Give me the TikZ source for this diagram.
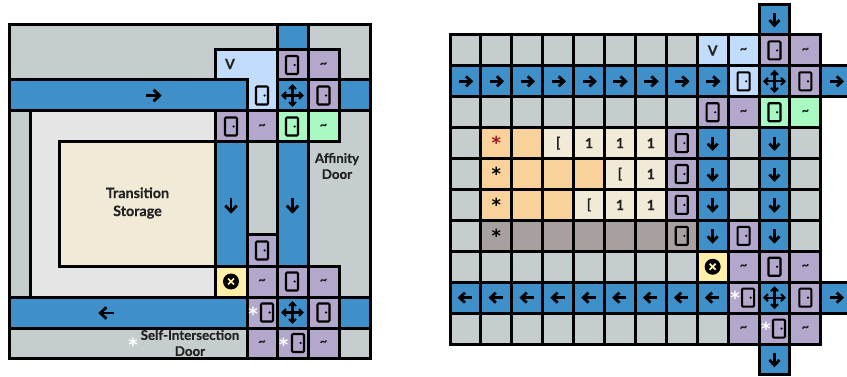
\documentclass[tikz,border=0pt]{standalone}
\usepackage{fontspec}
\setmainfont{Lato}[BoldFeatures={FakeBold=0.3}]
\newfontfamily\starfont{DejaVu Sans Bold}
\definecolor{cgray}{HTML}{C5CDCF}
\definecolor{cblue}{HTML}{3F8FC8}
\definecolor{cpurp}{HTML}{B3A8CB}
\definecolor{clite}{HTML}{C2DCFB}
\definecolor{cgreen}{HTML}{A8F9C2}
\definecolor{cyell}{HTML}{FFEFA8}
\definecolor{ccream}{HTML}{F1EAD6}
\definecolor{corange}{HTML}{F8D29A}
\definecolor{ctaupe}{HTML}{A8A09E}
\definecolor{cpale}{HTML}{E5E5E5}
\definecolor{cred}{HTML}{A01818}
\definecolor{cink}{HTML}{222222}
\tikzset{
  reg/.style={draw=black,line width=3pt,fill=#1},
  lab/.style={font=\bfseries\fontsize{13.3}{16}\selectfont,text=cink,align=center,inner sep=0pt},
  pics/door/.style={code={
    \draw[black,line width=2.1pt,rounded corners=1pt] (-6,-9) rectangle (6,9);
    \fill[black] (2.6,0) circle (1.2);}},
  pics/arw/.style={code={
    \draw[black,line width=2.8pt] (-6.5,0) -- (5.5,0);
    \draw[black,line width=2.8pt] (0.5,-5) -- (5.8,0) -- (0.5,5);}},
  pics/mv/.style={code={
    \draw[black,line width=2.1pt] (-9,0) -- (9,0) (0,-9) -- (0,9);
    \draw[black,line width=2.1pt] (-6.5,-3.5) -- (-10,0) -- (-6.5,3.5);
    \draw[black,line width=2.1pt] (6.5,-3.5) -- (10,0) -- (6.5,3.5);
    \draw[black,line width=2.1pt] (-3.5,-6.5) -- (0,-10) -- (3.5,-6.5);
    \draw[black,line width=2.1pt] (-3.5,6.5) -- (0,10) -- (3.5,6.5);}},
  pics/xc/.style={code={
    \fill[black] (0,0) circle (8);
    \draw[cyell,line width=1.7pt] (-3,-3) -- (3,3) (-3,3) -- (3,-3);}}
}
% right-hand grid: column, row, colour
\newcommand{\gc}[3]{\draw[reg=#3] ({450+30.9*#1},{35+30.9*#2}) rectangle ++(30.9,30.9);}
\newcommand{\gp}[4]{\gc{#1}{#2}{#3}\pic[#4] at ({465.45+30.9*#1},{50.45+30.9*#2}) }
\newcommand{\gt}[5]{\gc{#1}{#2}{#3}\node[inner sep=0pt,text=#5] (t#1r#2) at ({465.45+30.9*#1},{50.45+30.9*#2}) {#4};}
\newcommand{\tl}{\fontsize{13}{13}\selectfont\bfseries\char`~}
\newcommand{\og}{\fontsize{14}{14}\selectfont\bfseries}
\newcommand{\obr}{\fontsize{14}{14}\selectfont\bfseries}
\newcommand{\astk}{\fontsize{18}{18}\selectfont\starfont\raisebox{-1pt}{*}}
\begin{document}
\begin{tikzpicture}[x=1pt,y=-1pt]
\useasboundingbox (0,0) rectangle (847,377);
\clip (0,0) rectangle (847,377);
\fill[white] (0,0) rectangle (847,377);
% ---------- left diagram
\draw[reg=cgray] (9,25) rectangle (370,358);
\draw[reg=cpale] (30,111) rectangle (215,297);
\draw[reg=ccream] (59,142) rectangle (215,266);
\draw[reg=cblue] (277,25) rectangle (308,50);
\draw[reg=clite] (215,50) -- (277,50) -- (277,111) -- (247,111) -- (247,80) -- (215,80) -- cycle;
\draw[reg=cblue] (9,80) rectangle (247,111);
\draw[reg=cblue] (339,80) rectangle (370,111);
\draw[reg=cpurp] (277,50) rectangle (308,80);
\draw[reg=cpurp] (308,50) rectangle (339,80);
\draw[reg=cblue] (277,80) rectangle (308,111);
\draw[reg=cpurp] (308,80) rectangle (339,111);
\draw[reg=cpurp] (215,111) rectangle (247,142);
\draw[reg=cpurp] (247,111) rectangle (277,142);
\draw[reg=cgreen] (277,111) rectangle (308,142);
\draw[reg=cgreen] (308,111) rectangle (339,142);
\draw[reg=cblue] (215,142) rectangle (247,266);
\draw[reg=cblue] (277,142) rectangle (308,266);
\draw[reg=cpurp] (247,235) rectangle (277,266);
\draw[reg=cyell] (215,266) rectangle (247,297);
\draw[reg=cpurp] (247,266) rectangle (277,297);
\draw[reg=cpurp] (277,266) rectangle (308,297);
\draw[reg=cpurp] (308,266) rectangle (339,297);
\draw[reg=cblue] (9,297) rectangle (247,328);
\draw[reg=cpurp] (247,297) rectangle (277,328);
\draw[reg=cblue] (277,297) rectangle (308,328);
\draw[reg=cpurp] (308,297) rectangle (339,328);
\draw[reg=cblue] (339,297) rectangle (370,328);
\draw[reg=cpurp] (247,328) rectangle (277,358);
\draw[reg=cpurp] (277,328) rectangle (308,358);
\draw[reg=cpurp] (308,328) rectangle (339,358);
% left icons
\pic at (292,65) {door};
\pic at (323.5,95.5) {door};
\pic at (262,95.5) {door};
\pic at (231,126.5) {door};
\pic at (292,126.5) {door};
\pic at (262,250.5) {door};
\pic at (292,281.5) {door};
\pic at (323.5,312.5) {door};
\pic at (267,312.5) {door};
\pic at (298,343) {door};
\pic at (292.5,95.5) {mv};
\pic at (292.5,312.5) {mv};
\pic[scale=1.15] at (153,95.5) {arw};
\pic[scale=1.15,rotate=180] at (107,313) {arw};
\pic[scale=1.15,rotate=-90] at (231,205) {arw};
\pic[scale=1.15,rotate=-90] at (292.5,205) {arw};
\pic at (231,281.5) {xc};
\node[inner sep=0pt,text=cink] (lv) at (230,64) {\og V};
\node[inner sep=0pt,text=cink] (l1) at (323.5,65) {\tl};
\node[inner sep=0pt,text=cink] (l2) at (262,126.5) {\tl};
\node[inner sep=0pt,text=cink] (l3) at (323.5,126.5) {\tl};
\node[inner sep=0pt,text=cink] (l4) at (262,281.5) {\tl};
\node[inner sep=0pt,text=cink] (l5) at (323.5,281.5) {\tl};
\node[inner sep=0pt,text=cink] (l6) at (262,343) {\tl};
\node[inner sep=0pt,text=cink] (l7) at (323.5,343) {\tl};
\node[lab,font=\bfseries\fontsize{14.3}{18}\selectfont] (storage) at (137.5,203) {Transition\\Storage};
\node[lab] (aff) at (337,166) {Affinity\\Door};
\node[lab] (self) at (190,343) {Self-Intersection\\Door};
\node[inner sep=0pt,text=white] (s1) at (133,344.5) {\astk};
\node[inner sep=0pt,text=white] (s2) at (253,313.5) {\astk};
\node[inner sep=0pt,text=white] (s3) at (283.5,344.5) {\astk};
% ---------- right diagram
\foreach \r/\n in {0/7,2/7,7/7,9/8}{\foreach \c in {0,...,\n}{\gc{\c}{\r}{cgray}}}
\foreach \r in {3,4,5,6}{\gc{0}{\r}{cgray}}
\foreach \c in {2,3,4}{\gc{\c}{4}{corange}}
\gc{2}{3}{corange}
\foreach \c in {2,3}{\gc{\c}{5}{corange}}
\foreach \c in {2,...,6}{\gc{\c}{6}{ctaupe}}
\foreach \r in {3,4,5,6}{\gc{9}{\r}{cgray}\gc{11}{\r}{cgray}}
\gt{8}{0}{clite}{\og V}{cink}
\gt{9}{0}{clite}{\tl}{cink}
\gt{11}{0}{cpurp}{\tl}{cink}
\gt{9}{2}{cpurp}{\tl}{cink}
\gt{11}{2}{cgreen}{\tl}{cink}
\gt{9}{7}{cpurp}{\tl}{cink}
\gt{11}{7}{cpurp}{\tl}{cink}
\gt{9}{9}{cpurp}{\tl}{cink}
\gt{11}{9}{cpurp}{\tl}{cink}
\gt{1}{3}{corange}{\astk}{cred}
\gt{1}{4}{corange}{\astk}{black}
\gt{1}{5}{corange}{\astk}{black}
\gt{1}{6}{ctaupe}{\astk}{black}
\gt{3}{3}{ccream}{\og [}{cink}
\gt{4}{3}{ccream}{\obr 1}{cink}
\gt{5}{3}{ccream}{\obr 1}{cink}
\gt{6}{3}{ccream}{\obr 1}{cink}
\gt{5}{4}{ccream}{\og [}{cink}
\gt{6}{4}{ccream}{\obr 1}{cink}
\gt{4}{5}{ccream}{\og [}{cink}
\gt{5}{5}{ccream}{\obr 1}{cink}
\gt{6}{5}{ccream}{\obr 1}{cink}
% doors
\gp{10}{0}{cpurp}{}{door};
\gp{9}{1}{clite}{}{door};
\gp{11}{1}{cpurp}{}{door};
\gp{8}{2}{cpurp}{}{door};
\gp{10}{2}{cgreen}{}{door};
\gp{7}{3}{cpurp}{}{door};
\gp{7}{4}{cpurp}{}{door};
\gp{7}{5}{cpurp}{}{door};
\gp{7}{6}{ctaupe}{}{door};
\gp{9}{6}{cpurp}{}{door};
\gp{10}{7}{cpurp}{}{door};
\gp{11}{8}{cpurp}{}{door};
\gp{9}{8}{cpurp}{xshift=4.5pt}{door};
\gp{10}{9}{cpurp}{xshift=4.5pt}{door};
\node[inner sep=0pt,text=white] (s4) at (735,298) {\astk};
\node[inner sep=0pt,text=white] (s5) at (766,329) {\astk};
% arrows
\foreach \c in {0,...,8}{\gp{\c}{1}{cblue}{}{arw};}
\gp{12}{1}{cblue}{}{arw};
\foreach \c in {0,...,8}{\gp{\c}{8}{cblue}{rotate=180}{arw};}
\gp{12}{8}{cblue}{}{arw};
\gp{10}{-1}{cblue}{rotate=-90}{arw};
\gp{10}{10}{cblue}{rotate=-90}{arw};
\foreach \r in {3,4,5,6}{\gp{8}{\r}{cblue}{rotate=-90}{arw};\gp{10}{\r}{cblue}{rotate=-90}{arw};}
\gp{10}{1}{cblue}{}{mv};
\gp{10}{8}{cblue}{}{mv};
\gp{8}{7}{cyell}{}{xc};
\end{tikzpicture}
\end{document}
